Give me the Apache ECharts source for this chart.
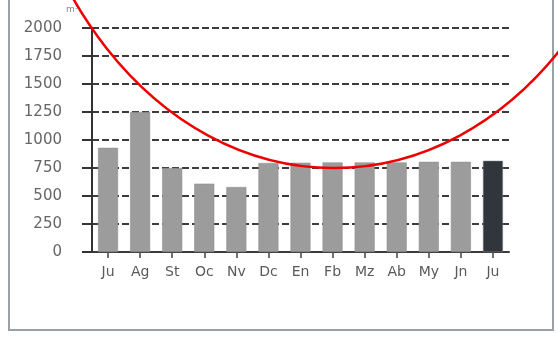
<!DOCTYPE html>
<html>
<head>
<meta charset="utf-8">
<script src="https://cdn.jsdelivr.net/npm/echarts@6/dist/echarts.min.js"></script>
<style>
  html, body { margin: 0; padding: 0; background: #fff; }
  #chart { width: 558px; height: 338px; }
</style>
</head>
<body>
<div id="chart"></div>
<script>
// Monthly totals, July to July
const months = ['Ju', 'Ag', 'St', 'Oc', 'Nv', 'Dc', 'En', 'Fb', 'Mz', 'Ab', 'My', 'Jn', 'Ju'];
const volumes = [930, 1250, 750, 610, 580, 795, 797, 800, 800, 800, 805, 805, 815];
const yTicks = [0, 250, 500, 750, 1000, 1250, 1500, 1750, 2000];
const unitLabel = 'm³';

const chart = echarts.init(document.getElementById('chart'), null, { renderer: 'canvas' });

const lastIndex = months.length - 1;
const labelFont = 'DejaVu Sans, Arial, sans-serif';

chart.setOption({
  animation: false,
  backgroundColor: '#ffffff',
  grid: { left: 92, right: 49, top: 28, bottom: 86 },
  xAxis: {
    type: 'category',
    data: months.map((m, i) => i),
    axisLine: { show: true, lineStyle: { color: '#3a3a3a', width: 2 } },
    axisTick: { show: true, alignWithLabel: true, length: 6, lineStyle: { color: '#444', width: 1.5 } },
    axisLabel: {
      margin: 13,
      color: '#5a5a5a',
      fontSize: 14,
      fontFamily: labelFont,
      formatter: (v) => months[v]
    },
    splitLine: { show: false }
  },
  yAxis: {
    type: 'value',
    min: yTicks[0],
    max: yTicks[yTicks.length - 1],
    interval: yTicks[1] - yTicks[0],
    axisLine: { show: true, lineStyle: { color: '#333', width: 2 } },
    axisTick: { show: true, inside: false, length: 10, lineStyle: { color: '#333', width: 2 } },
    axisLabel: {
      margin: 30,
      color: '#666',
      fontSize: 15,
      fontFamily: labelFont,
      formatter: (v) => String(v)
    },
    splitLine: {
      show: true,
      lineStyle: { color: '#3c3c3c', width: 2, type: [7, 3] }
    }
  },
  series: [{
    type: 'bar',
    data: volumes,
    barWidth: 20,
    itemStyle: {
      color: (p) => p.dataIndex === lastIndex ? '#30363c' : '#9c9c9c',
      borderColor: '#8a8a8a',
      borderWidth: 0.5
    }
  }],
  graphic: [
    // outer frame of the figure
    {
      type: 'polyline',
      shape: { points: [[9, -2], [9, 330], [553, 330], [553, -2]] },
      style: { stroke: '#9aa0a6', lineWidth: 2, fill: null },
      silent: true
    },
    {
      type: 'text',
      left: 66,
      top: 5,
      style: { text: unitLabel, fill: '#888', fontSize: 9, fontFamily: labelFont },
      silent: true
    },
    // red highlight ring
    {
      type: 'ellipse',
      shape: { cx: 334, cy: -242, rx: 322, ry: 410 },
      style: { stroke: '#ee0000', lineWidth: 2.5, fill: null },
      z: 100,
      silent: true
    }
  ]
});
</script>
</body>
</html>
